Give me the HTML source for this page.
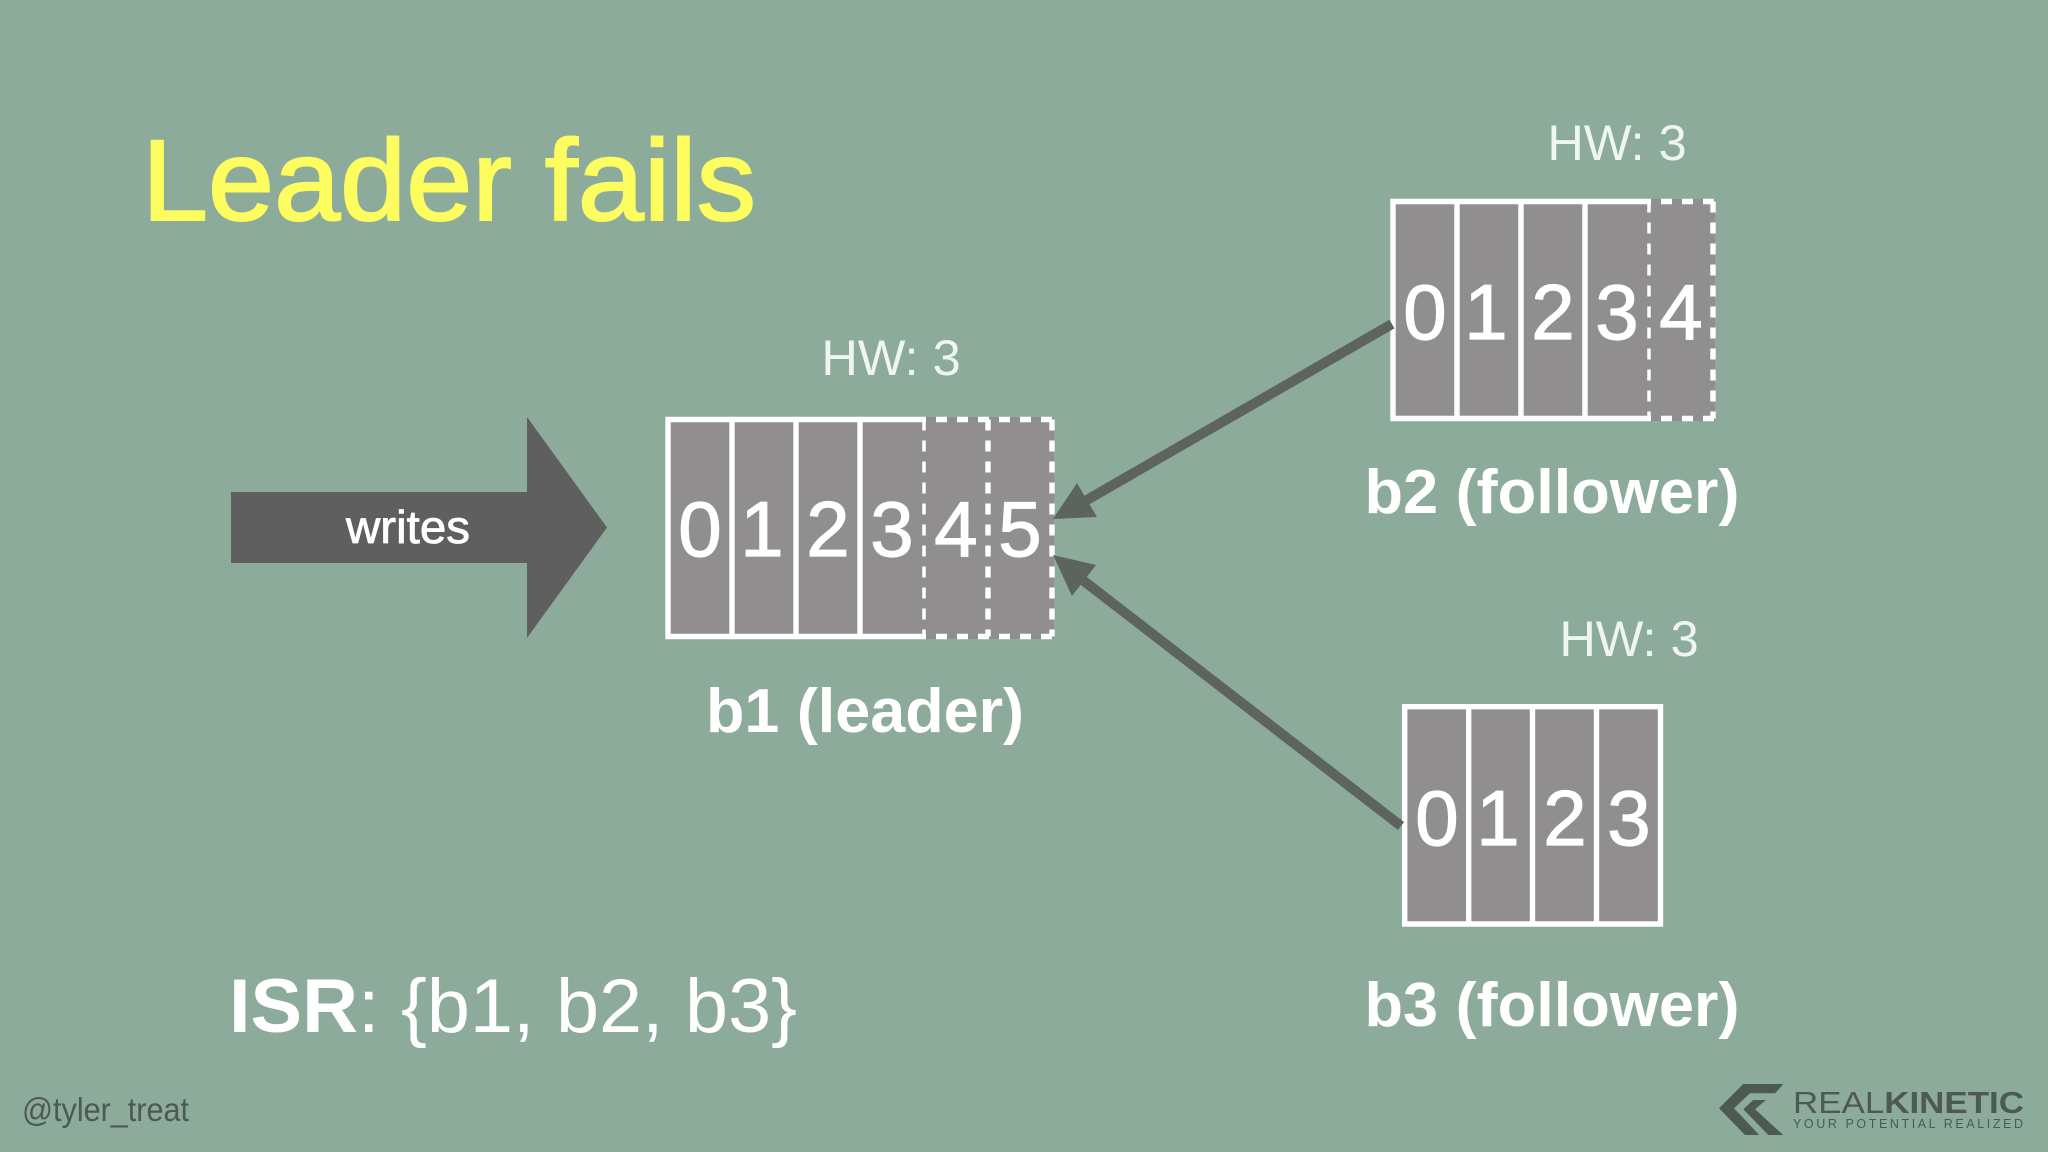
<!DOCTYPE html>
<html><head><meta charset="utf-8"><style>html,body{margin:0;padding:0;background:#8dab9b}svg{display:block}text{font-family:"Liberation Sans",sans-serif}</style></head><body>
<svg width="2048" height="1152" viewBox="0 0 2048 1152" xmlns="http://www.w3.org/2000/svg">
<rect width="2048" height="1152" fill="#8dab9b"/>
<text x="142" y="220" font-size="115" fill="#fdfd5f" stroke="#fdfd5f" stroke-width="2" textLength="614" lengthAdjust="spacingAndGlyphs">Leader fails</text>

<!-- writes arrow -->
<polygon points="231,492 527,492 527,417 607,527.5 527,638 527,563 231,563" fill="#5e5f5e"/>
<text x="408" y="543" font-size="46" fill="#fff" stroke="#fff" stroke-width="0.8" text-anchor="middle" textLength="124" lengthAdjust="spacingAndGlyphs">writes</text>

<!-- b1 -->
<g>
<rect x="668" y="419.5" width="256" height="217" fill="#908e8f"/>
<rect x="924" y="417" width="130" height="222" fill="#908e8f"/>
<g fill="none" stroke="#fff" stroke-width="5.4">
<path d="M926,419.5H668V636.5H926M732,419.5V636.5M796,419.5V636.5M860,419.5V636.5"/>
<path stroke-dasharray="11 10" d="M988,419.5V636.5M1052,419.5V636.5M936,419.5H1054M936,636.5H1054"/>
<path stroke-dasharray="11 10" stroke-width="3.5" d="M924,419.5V636.5"/>
</g>
<g font-size="78" fill="#fff" stroke="#fff" stroke-width="1.2" text-anchor="middle">
<text x="700" y="556">0</text><text x="762" y="556">1</text><text x="828" y="556">2</text><text x="892" y="556">3</text><text x="956" y="556">4</text><text x="1020" y="556">5</text>
</g>
<text x="891" y="375" font-size="50.5" fill="#eef6f0" text-anchor="middle">HW: 3</text>
<text x="865" y="732" font-size="62" font-weight="bold" fill="#fff" text-anchor="middle" textLength="318" lengthAdjust="spacingAndGlyphs">b1 (leader)</text>
</g>

<!-- b2 -->
<g>
<rect x="1393" y="201.5" width="256" height="217" fill="#908e8f"/>
<rect x="1649" y="199" width="66" height="222" fill="#908e8f"/>
<g fill="none" stroke="#fff" stroke-width="5.4">
<path d="M1651,201.5H1393V418.5H1651M1457,201.5V418.5M1521,201.5V418.5M1585,201.5V418.5"/>
<path stroke-dasharray="11 10" d="M1713,201.5V418.5M1661,201.5H1715M1661,418.5H1715"/>
<path stroke-dasharray="11 10" stroke-width="3.5" d="M1649,201.5V418.5"/>
</g>
<g font-size="78" fill="#fff" stroke="#fff" stroke-width="1.2" text-anchor="middle">
<text x="1425" y="339">0</text><text x="1486" y="339">1</text><text x="1553" y="339">2</text><text x="1617" y="339">3</text><text x="1681" y="339">4</text>
</g>
<text x="1617" y="160" font-size="50.5" fill="#eef6f0" text-anchor="middle">HW: 3</text>
<text x="1552" y="513" font-size="62" font-weight="bold" fill="#fff" text-anchor="middle" textLength="375" lengthAdjust="spacingAndGlyphs">b2 (follower)</text>
</g>

<!-- b3 -->
<g>
<rect x="1404.7" y="706.7" width="256" height="217.3" fill="#908e8f"/>
<g fill="none" stroke="#fff" stroke-width="5.4">
<path d="M1404.7,706.7H1660.5V924H1404.7ZM1468.7,706.7V924M1532.5,706.7V924M1596.5,706.7V924"/>
</g>
<g font-size="78" fill="#fff" stroke="#fff" stroke-width="1.2" text-anchor="middle">
<text x="1437" y="845">0</text><text x="1498" y="845">1</text><text x="1565" y="845">2</text><text x="1629" y="845">3</text>
</g>
<text x="1629" y="656" font-size="50.5" fill="#eef6f0" text-anchor="middle">HW: 3</text>
<text x="1552" y="1026" font-size="62" font-weight="bold" fill="#fff" text-anchor="middle" textLength="375" lengthAdjust="spacingAndGlyphs">b3 (follower)</text>
</g>

<!-- connectors -->
<line x1="1392" y1="324" x2="1080" y2="504" stroke="#5c645d" stroke-width="10"/>
<polygon points="1053,519 1077,483 1097,517" fill="#5c645d"/>
<line x1="1401" y1="826" x2="1080" y2="578" stroke="#5c645d" stroke-width="10"/>
<polygon points="1053,555 1096,565 1072,596" fill="#5c645d"/>

<text x="229" y="1032" font-size="76" fill="#fff" textLength="568" lengthAdjust="spacingAndGlyphs"><tspan font-weight="bold">ISR</tspan>: {b1, b2, b3}</text>
<text x="22" y="1121" font-size="33" fill="#4c5a52" textLength="167" lengthAdjust="spacingAndGlyphs">@tyler_treat</text>

<!-- logo -->
<g fill="#4c5a52">
<polygon points="1743.3,1084 1783.3,1084 1775,1093.3 1750,1093.3 1734,1108.3 1759.3,1135 1745,1135 1719,1108.3"/>
<polygon points="1753.3,1100 1766,1100 1755,1109.3 1783.3,1135 1768.3,1135 1743.3,1109.3"/>
<text x="1793" y="1113" font-size="31" textLength="231" lengthAdjust="spacingAndGlyphs"><tspan font-weight="normal">REAL</tspan><tspan font-weight="bold">KINETIC</tspan></text>
<text x="1793" y="1128" font-size="12.5" textLength="230">YOUR POTENTIAL REALIZED</text>
</g>
</svg>
</body></html>
